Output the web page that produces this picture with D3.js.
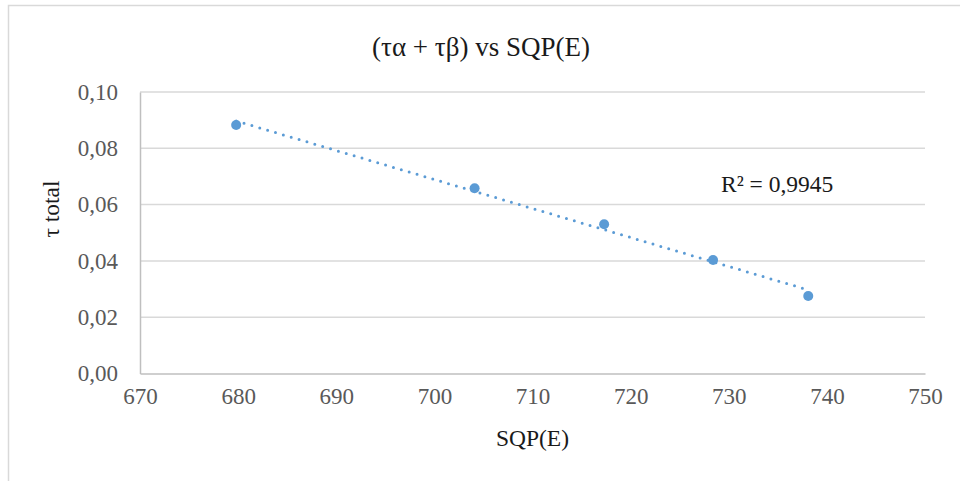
<!DOCTYPE html>
<html>
<head>
<meta charset="utf-8">
<script src="https://cdn.jsdelivr.net/npm/d3@7"></script>
<style>
  html, body { margin: 0; padding: 0; background: #fff; }
  svg { display: block; }
  svg text { font-family: 'Liberation Serif', 'Times New Roman', Times, serif !important; }
</style>
</head>
<body>
<svg id="chart" width="960" height="481"></svg>
<script>
// ---- data ----
const sqpValues = [679.8, 704.1, 717.3, 728.4, 738.1];
const tauTotal = [0.0883, 0.0658, 0.0530, 0.0403, 0.0275];
const xTicks = [670, 680, 690, 700, 710, 720, 730, 740, 750];
const yTicks = [0, 0.02, 0.04, 0.06, 0.08, 0.10];
const chartTitle = "(τα + τβ) vs SQP(E)";
const xTitle = "SQP(E)";
const yTitle = "τ total";
const r2Label = "R² = 0,9945";

// ---- layout ----
const svg = d3.select("#chart");
const FONT = "'Liberation Serif', 'Times New Roman', serif";
const plot = { left: 140, right: 925, top: 92, bottom: 373.5 };
const blue = "#5b9bd5";

const x = d3.scaleLinear().domain([670, 750]).range([plot.left, plot.right]);
const y = d3.scaleLinear().domain([0, 0.10]).range([plot.bottom, plot.top]);
const fmtY = v => d3.format(".2f")(v).replace(".", ",");

// chart border
svg.append("rect")
  .attr("x", 8.5).attr("y", 5.5).attr("width", 1000).attr("height", 520)
  .attr("fill", "none").attr("stroke", "#d9d9d9").attr("stroke-width", 1.5);

// title
svg.append("text")
  .attr("x", 481).attr("y", 56)
  .attr("text-anchor", "middle")
  .style("font-family", FONT)
  .attr("font-size", 27).attr("fill", "#1a1a1a")
  .text(chartTitle);

// gridlines
svg.append("g")
  .selectAll("line")
  .data(yTicks.filter(d => d > 0))
  .join("line")
  .attr("x1", plot.left).attr("x2", plot.right)
  .attr("y1", d => y(d)).attr("y2", d => y(d))
  .attr("stroke", "#d9d9d9").attr("stroke-width", 1.5);

// y axis
const yAxis = d3.axisLeft(y).tickValues(yTicks).tickFormat(fmtY).tickSize(0).tickPadding(22);
const gy = svg.append("g").attr("transform", `translate(${plot.left},0)`).call(yAxis);
gy.attr("font-family", null).attr("font-size", null);
gy.select(".domain").attr("stroke", "#bfbfbf").attr("stroke-width", 1.5);
gy.selectAll("text")
  .style("font-family", FONT)
  .style("font-size", "23px").attr("fill", "#595959");

// x axis
const xAxis = d3.axisBottom(x).tickValues(xTicks).tickFormat(d3.format("d")).tickSize(0).tickPadding(14);
const gx = svg.append("g").attr("transform", `translate(0,${plot.bottom})`).call(xAxis);
gx.attr("font-family", null).attr("font-size", null);
gx.select(".domain").attr("stroke", "#bfbfbf").attr("stroke-width", 1.5);
gx.selectAll("text")
  .style("font-family", FONT)
  .style("font-size", "23px").attr("fill", "#595959");

// axis titles
svg.append("text")
  .attr("x", (plot.left + plot.right) / 2).attr("y", 446)
  .attr("text-anchor", "middle")
  .style("font-family", FONT)
  .attr("font-size", 23.5).attr("fill", "#1a1a1a")
  .text(xTitle);

svg.append("text")
  .attr("transform", "translate(59,209) rotate(-90)")
  .attr("text-anchor", "middle")
  .style("font-family", FONT)
  .attr("font-size", 23.5).attr("fill", "#1a1a1a")
  .text(yTitle);

// linear trendline (least squares on data)
const n = sqpValues.length;
const mx = d3.mean(sqpValues), my = d3.mean(tauTotal);
let sxy = 0, sxx = 0;
for (let i = 0; i < n; i++) {
  sxy += (sqpValues[i] - mx) * (tauTotal[i] - my);
  sxx += (sqpValues[i] - mx) ** 2;
}
const slope = sxy / sxx, intercept = my - slope * mx;
const xMin = d3.min(sqpValues), xMax = d3.max(sqpValues);
const trend = [[xMin, intercept + slope * xMin], [xMax, intercept + slope * xMax]];

svg.append("path")
  .datum(trend)
  .attr("d", d3.line().x(d => x(d[0])).y(d => y(d[1])))
  .attr("fill", "none")
  .attr("stroke", blue)
  .attr("stroke-width", 3)
  .attr("stroke-linecap", "round")
  .attr("stroke-dasharray", "0,8.2");

// points
svg.append("g")
  .selectAll("circle")
  .data(sqpValues.map((v, i) => [v, tauTotal[i]]))
  .join("circle")
  .attr("cx", d => x(d[0])).attr("cy", d => y(d[1]))
  .attr("r", 5)
  .attr("fill", blue);

// R² label
svg.append("text")
  .attr("x", 721).attr("y", 192)
  .style("font-family", FONT)
  .attr("font-size", 23.5).attr("fill", "#1a1a1a")
  .text(r2Label);
</script>
</body>
</html>
